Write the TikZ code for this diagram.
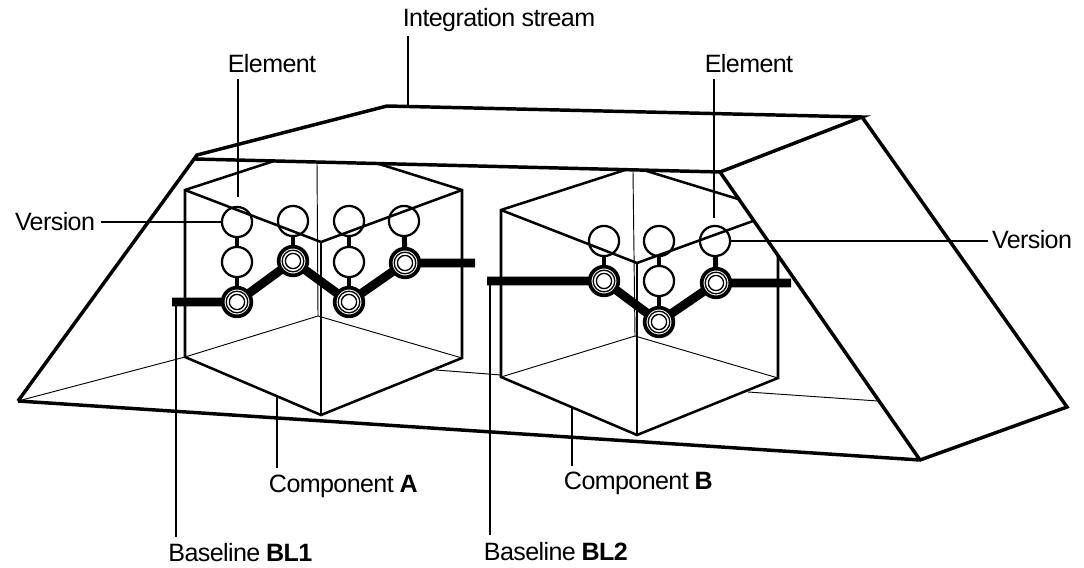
\documentclass[tikz,border=0pt]{standalone}
\usepackage{fontspec}
\setmainfont[LetterSpace=-2.4]{Liberation Sans}
\tikzset{
 px/.style={x=0.75pt,y=-0.75pt},
 edge/.style={draw=black,line width=2.6pt,line join=miter},
 cube/.style={draw=black,line width=1.9pt},
 thin edge/.style={draw=black,line width=0.7pt},
 leader/.style={draw=black,line width=1.6pt},
 base/.style={draw=black,line width=6.6pt},
 stem/.style={draw=black,line width=3.7pt},
 ver/.style={circle,draw=black,line width=1.7pt,minimum size=22.6pt,inner sep=0pt},
 bver/.style={circle,draw=black,fill=white,line width=2.8pt,minimum size=21.5pt,inner sep=0pt,
   path picture={\draw[line width=1pt] (path picture bounding box.center) circle[radius=8.1pt];
                 \draw[line width=1pt] (path picture bounding box.center) circle[radius=5.7pt];}},
 lab/.style={font=\fontsize{18.8pt}{22pt}\selectfont,inner sep=0pt,anchor=center,text=black},
}
\begin{document}
\begin{tikzpicture}[px]
\useasboundingbox (0,0) rectangle (1084,567);
% stream
\coordinate (sFL) at (197,155); \coordinate (sFL2) at (195,159); \coordinate (sBL) at (387,106);
\coordinate (sBR) at (862,117); \coordinate (sFR) at (720,172);
\coordinate (sBotL) at (18,401); \coordinate (sBotM) at (920,460); \coordinate (sBotR) at (1067,407);
\draw[edge] (sBotL) -- (sFL) -- (sBL) -- (sBR) -- (sFR) -- (sFL2);
\draw[edge] (sBotL) -- (sBotM) -- (sBotR) -- (sBR);
% thin floor lines
\coordinate (fa) at (436,370); \coordinate (fb) at (501,375);
\coordinate (fc) at (748,392); \coordinate (fd) at (878,401);
\coordinate (ALB) at (185,357);
\draw[thin edge] (sBotL) -- (ALB);
\draw[thin edge] (fa) -- (fb);
\draw[thin edge] (fc) -- (fd);
% cube A
\coordinate (ATL) at (185,190); \coordinate (ATR) at (462,190); \coordinate (AC) at (321,242);
\coordinate (AB) at (321,415); \coordinate (ARB) at (462,358);
\coordinate (AI) at (318,316); \coordinate (AK) at (317,162);
\coordinate (Ae1) at (274,161); \coordinate (Ae2) at (376,163);
\draw[cube] (Ae1) -- (ATL) -- (ALB) -- (AB) -- (ARB) -- (ATR) -- (Ae2);
\draw[cube] (ATL) -- (AC) -- (ATR);
\draw[cube] (AC) -- (AB);
\draw[thin edge] (AK) -- (AI);
\draw[thin edge] (ALB) -- (AI) -- (ARB);
% cube B
\coordinate (BTL) at (501,210); \coordinate (BLB) at (501,377); \coordinate (BC) at (637,263);
\coordinate (BB) at (637,435); \coordinate (BRB) at (778,378); \coordinate (BRT) at (778,255);
\coordinate (BI) at (635,336); \coordinate (BK) at (633,172);
\coordinate (Be1) at (625,170); \coordinate (Be2) at (645,170.5); \coordinate (Be3) at (738,199); \coordinate (Be4) at (753,221);
\draw[cube] (Be1) -- (BTL) -- (BLB) -- (BB) -- (BRB) -- (BRT);
\draw[cube] (BTL) -- (BC) -- (Be4);
\draw[cube] (Be2) -- (Be3);
\draw[cube] (BC) -- (BB);
\draw[thin edge] (BK) -- (BI);
\draw[thin edge] (BLB) -- (BI) -- (BRB);
% right stream edge over cube B
\draw[edge] (sFR) -- (sBotM);
% versions A
\node[ver] (a11) at (237,222) {}; \node[ver] (a12) at (293,221) {}; \node[ver] (a13) at (349,221) {}; \node[ver] (a14) at (404,221) {};
\node[ver] (a21) at (237,262) {}; \node[ver] (a23) at (349,262) {};
\coordinate (aL) at (172,302); \coordinate (aR) at (475,263);
\draw[base] (aL) -- (237,302) -- (293,261) -- (349,302) -- (405,263) -- (aR);
\node[bver] (a31) at (237,302) {}; \node[bver] (a22) at (293,261) {}; \node[bver] (a33) at (349,302) {}; \node[bver] (a24) at (405,263) {};
\draw[stem] (a11) -- (a21); \draw[stem] (a21) -- (a31); \draw[stem] (a12) -- (a22); \draw[stem] (a13) -- (a23); \draw[stem] (a23) -- (a33); \draw[stem] (a14) -- (a24);
% versions B
\node[ver] (b11) at (604,241) {}; \node[ver] (b12) at (659,241) {}; \node[ver] (b13) at (715,241) {};
\node[ver] (b22) at (659,281) {};
\coordinate (bL) at (487,281); \coordinate (bR) at (791,283);
\draw[base] (bL) -- (604,281) -- (659,322) -- (716,283) -- (bR);
\node[bver] (b21) at (604,281) {}; \node[bver] (b32) at (659,322) {}; \node[bver] (b23) at (716,283) {};
\draw[stem] (b11) -- (b21); \draw[stem] (b12) -- (b22); \draw[stem] (b22) -- (b32); \draw[stem] (b13) -- (b23);
% labels
\node[lab] (tI) at (499,20) {Integration stream};
\node[lab] (tEa) at (272,64) {Element};
\node[lab] (tEb) at (749,64) {Element};
\node[lab] (tVa) at (55,222) {Version};
\node[lab] (tVb) at (1032,240) {Version};
\node[lab] (tCa) at (343,486) {Component \textbf{A}};
\node[lab] (tCb) at (638,483) {Component \textbf{B}};
\node[lab] (tBa) at (240,553) {Baseline \textbf{BL1}};
\node[lab] (tBb) at (555.5,552) {Baseline \textbf{BL2}};
% leaders
\coordinate (lI1) at (408,36); \coordinate (lI2) at (408,107);
\draw[leader] (lI1) -- (lI2);
\coordinate (lEa) at (238,79); \coordinate (lEa2) at (238,197);
\coordinate (lEb) at (714,79); \coordinate (lEb2) at (714,218);
\draw[leader] (lEa) -- (lEa2);
\draw[leader] (lEb) -- (lEb2);
\coordinate (lVa) at (101,222); \coordinate (lVb) at (988,241);
\draw[leader] (lVa) -- (a11.west);
\draw[leader] (b13.east) -- (lVb);
\coordinate (lCa) at (277,397); \coordinate (lCa2) at (277,468);
\coordinate (lCb) at (572,408); \coordinate (lCb2) at (572,466);
\draw[leader] (lCa) -- (lCa2);
\draw[leader] (lCb) -- (lCb2);
\coordinate (lBa) at (176,302); \coordinate (lBa2) at (176,537);
\coordinate (lBb) at (490,285); \coordinate (lBb2) at (490,535);
\draw[leader] (lBa) -- (lBa2);
\draw[leader] (lBb) -- (lBb2);
\end{tikzpicture}
\end{document}
